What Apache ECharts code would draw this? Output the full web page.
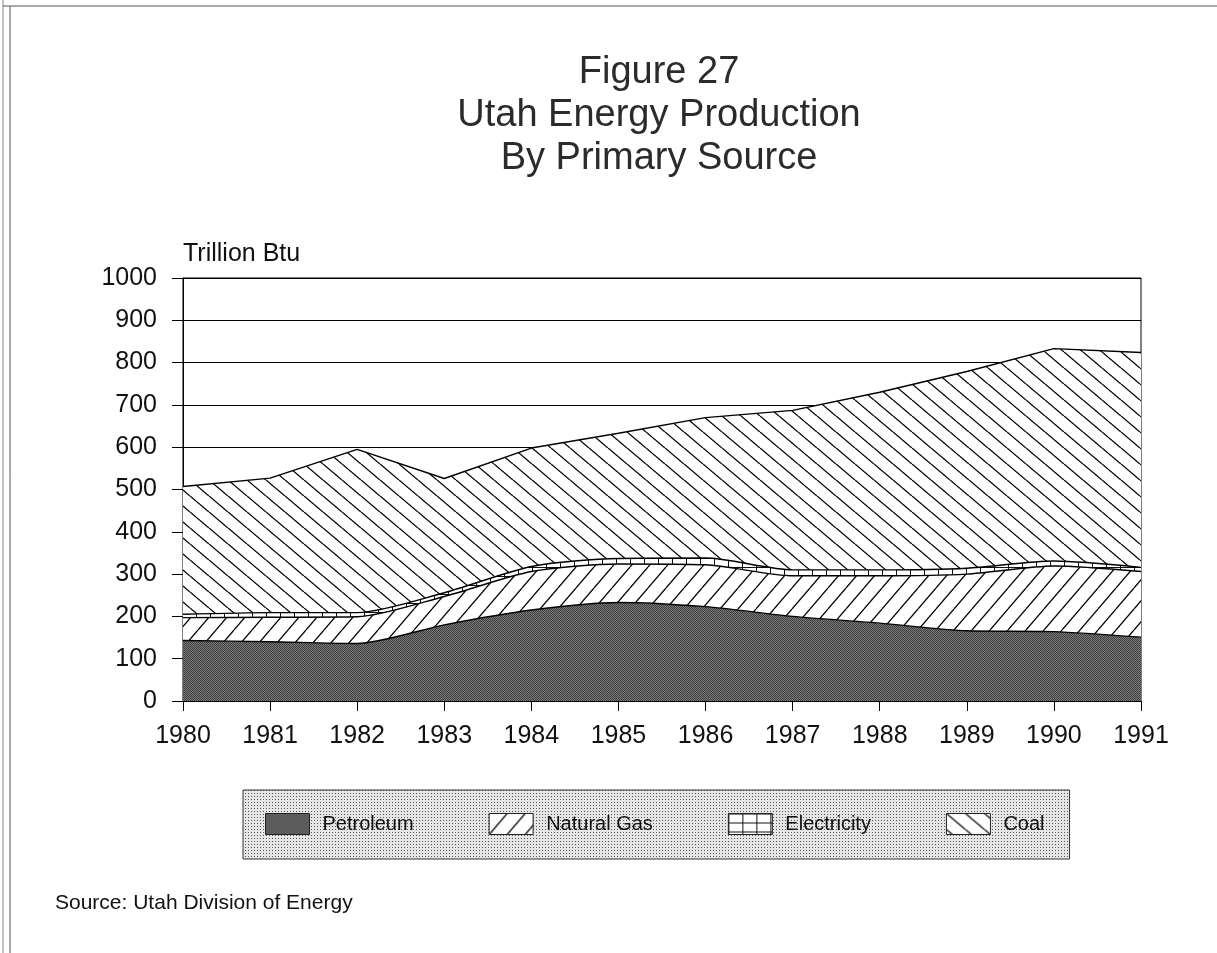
<!DOCTYPE html>
<html>
<head>
<meta charset="utf-8">
<script src="https://cdn.jsdelivr.net/npm/echarts@6/dist/echarts.min.js"></script>
<style>
  html, body { margin: 0; padding: 0; background: #fff; }
  #chart { width: 1217px; height: 953px; }
</style>
</head>
<body>
<div id="chart"></div>
<script>
// values, trillion Btu
const years = ['1980', '1981', '1982', '1983', '1984', '1985', '1986', '1987', '1988', '1989', '1990', '1991'];
const petroleum = [143, 140, 136, 180, 215, 233, 223, 200, 184, 166, 164, 151];
const naturalGas = [54, 58, 63, 67, 91, 91, 99, 96, 112, 134, 155, 155];
const electricity = [8, 11, 10, 9, 12, 13, 16, 14, 14, 14, 12, 10];
const coal = [302, 318, 386, 270, 280, 296, 332, 377, 420, 465, 502, 508];
const yTicks = [0, 100, 200, 300, 400, 500, 600, 700, 800, 900, 1000];

const FONT = '"Liberation Sans", Arial, sans-serif';

// small canvas tiles used as fill patterns
const makeTile = (w, h, draw) => {
  const c = document.createElement('canvas');
  c.width = w;
  c.height = h;
  draw(c.getContext('2d'), w, h);
  return {image: c, repeat: 'repeat'};
}

const petroleumFill = makeTile(2, 2, (ctx) => {
  ctx.fillStyle = '#7a7a7a';
  ctx.fillRect(0, 0, 2, 2);
  ctx.fillStyle = '#3e3e3e';
  ctx.fillRect(0, 0, 1, 1);
  ctx.fillRect(1, 1, 1, 1);
});

const gasFill = makeTile(18, 21, (ctx, w, h) => {
  ctx.fillStyle = '#fff';
  ctx.fillRect(0, 0, w, h);
  ctx.strokeStyle = '#000';
  ctx.lineWidth = 1.3;
  [-w, 0, w].forEach((dx) => {
    ctx.beginPath();
    ctx.moveTo(dx, h);
    ctx.lineTo(dx + w, 0);
    ctx.stroke();
  });
});

const coalFill = makeTile(19, 16, (ctx, w, h) => {
  ctx.fillStyle = '#fff';
  ctx.fillRect(0, 0, w, h);
  ctx.strokeStyle = '#000';
  ctx.lineWidth = 1.3;
  [-w, 0, w].forEach((dx) => {
    ctx.beginPath();
    ctx.moveTo(dx, 0);
    ctx.lineTo(dx + w, h);
    ctx.stroke();
  });
});

const electricityFill = makeTile(14, 9, (ctx, w, h) => {
  ctx.fillStyle = '#fff';
  ctx.fillRect(0, 0, w, h);
  ctx.fillStyle = '#111';
  ctx.fillRect(0, 0, 1, h);
  ctx.fillRect(0, 0, w, 1);
});

const legendBack = makeTile(3, 3, (ctx) => {
  ctx.fillStyle = '#e6e6e6';
  ctx.fillRect(0, 0, 3, 3);
  ctx.fillStyle = '#555';
  ctx.fillRect(1, 1, 1, 1);
});

const fills = {
  'Petroleum': petroleumFill,
  'Natural Gas': gasFill,
  'Electricity': electricityFill,
  'Coal': coalFill
};

const chart = echarts.init(document.getElementById('chart'), null, {renderer: 'canvas'});

const areaSeries = (name, data, smooth) => ({
  name: name,
  type: 'line',
  stack: 'total',
  data: data,
  smooth: smooth,
  symbol: 'none',
  showSymbol: false,
  lineStyle: {color: '#000', width: 1.4},
  itemStyle: {color: '#000'},
  areaStyle: {color: fills[name], opacity: 1},
  emphasis: {disabled: true}
});

const option = {
  animation: false,
  backgroundColor: '#fff',
  title: {
    text: 'Figure 27\nUtah Energy Production\nBy Primary Source',
    left: 654,
    top: 46,
    textAlign: 'center',
    textStyle: {
      fontFamily: FONT,
      fontSize: 38,
      fontWeight: 'normal',
      color: '#2b2b2b',
      lineHeight: 43
    }
  },
  grid: {
    left: 183,
    right: 76,
    top: 278,
    bottom: 252,
    show: true,
    borderColor: '#000',
    borderWidth: 1
  },
  legend: {
    left: 243,
    top: 790,
    orient: 'horizontal',
    icon: 'rect',
    itemWidth: 44,
    itemHeight: 21,
    itemGap: 75,
    padding: [23, 25, 24, 22],
    backgroundColor: legendBack,
    borderColor: '#333',
    borderWidth: 1,
    selectedMode: false,
    textStyle: {
      fontFamily: FONT,
      fontSize: 20,
      color: '#111',
      padding: [0, 0, 0, 8]
    },
    data: Object.keys(fills).map((name) => ({
      name: name,
      itemStyle: {color: fills[name], borderColor: '#222', borderWidth: 1}
    }))
  },
  xAxis: {
    type: 'category',
    boundaryGap: false,
    data: years,
    axisLine: {show: true, lineStyle: {color: '#000', width: 1}},
    axisTick: {show: true, length: 10, lineStyle: {color: '#000'}},
    axisLabel: {fontFamily: FONT, fontSize: 25, color: '#111', margin: 23},
    splitLine: {show: false}
  },
  yAxis: {
    type: 'value',
    min: yTicks[0],
    max: yTicks[yTicks.length - 1],
    interval: yTicks[1] - yTicks[0],
    name: 'Trillion Btu',
    nameLocation: 'end',
    nameGap: 11,
    nameTextStyle: {
      fontFamily: FONT,
      fontSize: 25,
      color: '#111',
      align: 'left',
      verticalAlign: 'bottom'
    },
    axisLine: {show: true, lineStyle: {color: '#000', width: 1}},
    axisTick: {show: true, length: 11, lineStyle: {color: '#000'}},
    axisLabel: {
      fontFamily: FONT,
      fontSize: 25,
      color: '#111',
      margin: 26,
      formatter: (v) => String(v)
    },
    splitLine: {show: true, lineStyle: {color: '#000', width: 1}}
  },
  graphic: [
    // scanned page frame
    {type: 'line', shape: {x1: 3, y1: 0, x2: 3, y2: 953}, style: {stroke: '#888', lineWidth: 1}},
    {type: 'line', shape: {x1: 10, y1: 6, x2: 10, y2: 953}, style: {stroke: '#555', lineWidth: 1}},
    {type: 'line', shape: {x1: 3, y1: 6, x2: 1217, y2: 6}, style: {stroke: '#555', lineWidth: 1}},
    {
      type: 'text',
      left: 55,
      top: 893,
      style: {
        text: 'Source: Utah Division of Energy',
        font: '21px ' + FONT,
        fill: '#111'
      }
    }
  ],
  series: [
    areaSeries('Petroleum', petroleum, 0.25),
    areaSeries('Natural Gas', naturalGas, 0.25),
    areaSeries('Electricity', electricity, 0.25),
    areaSeries('Coal', coal, false)
  ]
};

chart.setOption(option);
</script>
</body>
</html>
